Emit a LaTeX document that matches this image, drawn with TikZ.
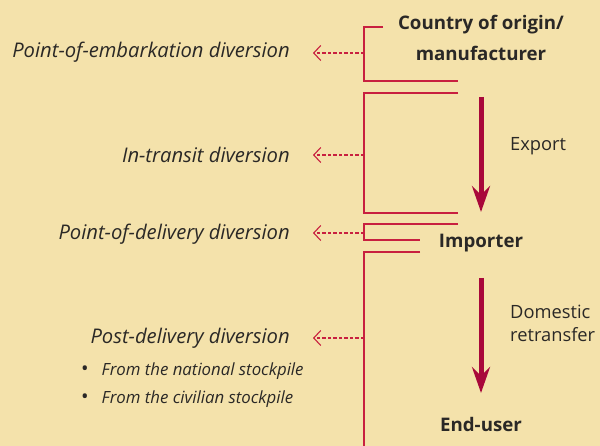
\documentclass[tikz,border=0pt]{standalone}
\usepackage{fontspec}
\setmainfont{Open Sans}
\usepackage{xcolor}
\usetikzlibrary{positioning,arrows.meta}

\definecolor{paper}{HTML}{F4E2AB}
\definecolor{crimson}{HTML}{C8203F}
\definecolor{wine}{HTML}{A8083A}
\definecolor{ink}{HTML}{2A2826}

\begin{document}
\begin{tikzpicture}[
    x=1pt, y=-1pt,
    stage/.style={font=\fontsize{18.7}{31}\selectfont\bfseries, text=ink, align=center, inner sep=0pt},
    note/.style={font=\fontsize{18.3}{23}\selectfont, text=ink, align=left, anchor=west, inner sep=0pt},
    kind/.style={font=\fontsize{20.2}{24}\selectfont\itshape, text=ink, anchor=east, inner sep=0pt},
    item/.style={font=\fontsize{16.8}{20}\selectfont\itshape, text=ink, anchor=west, inner sep=0pt},
    bracket/.style={draw=crimson, line width=1.3pt},
    leak/.style={draw=crimson, line width=1.1pt, dash pattern=on 3.5pt off 2pt,
                 -{Straight Barb[length=7pt, width=15pt, line width=1.1pt]}},
    flow/.style={draw=wine, line width=5pt,
                 -{Stealth[length=26pt, width=18pt, inset=9pt]}},
  ]

  % Background
  \fill[paper] (0,0) rectangle (600,446);
  \useasboundingbox (0,0) rectangle (600,446);

  % Stages
  \node[stage] (origin) at (481,38) {Country of origin/\\manufacturer};
  \node[stage] (importer) at (481,243) {Importer};
  \node[stage] (enduser) at (481,424) {End-user};

  % Transfers
  \node[note] (export) at (510,146) {Export};
  \node[note] (retransfer) at (510,323) {Domestic\\retransfer};
  \coordinate (e1s) at (481,97);
  \coordinate (e1e) at (481,212);
  \coordinate (e2s) at (481,278);
  \coordinate (e2e) at (481,393);
  \draw[flow] (e1s) -- (e1e);
  \draw[flow] (e2s) -- (e2e);

  % Brackets
  \draw[bracket] (383,27) -- (364,27) -- (364,81) -- (458,81);
  \draw[bracket] (458,93) -- (364,93) -- (364,213) -- (458,213);
  \draw[bracket] (458,224) -- (364,224) -- (364,240) -- (420,240);
  \draw[bracket] (420,252) -- (364,252) -- (364,450);

  % Diversion types
  \node[kind] (embark) at (290,52) {Point-of-embarkation diversion};
  \node[kind] (transit) at (290,155) {In-transit diversion};
  \node[kind] (delivery) at (290,234) {Point-of-delivery diversion};
  \node[kind] (post) at (290,338) {Post-delivery diversion};
  \node[item] (national) at (81,371) {{\upshape\fontsize{20}{20}\selectfont\textbullet}\hspace{13pt}From the national stockpile};
  \node[item] (civilian) at (81,399) {{\upshape\fontsize{20}{20}\selectfont\textbullet}\hspace{13pt}From the civilian stockpile};

  % Leaks
  \coordinate (b1) at (364,53);
  \coordinate (b2) at (364,155);
  \coordinate (b3) at (364,233);
  \coordinate (b4) at (364,338);
  \draw[leak] (b1) -- (b1 -| 313,0);
  \draw[leak] (b2) -- (b2 -| 313,0);
  \draw[leak] (b3) -- (b3 -| 313,0);
  \draw[leak] (b4) -- (b4 -| 313,0);

\end{tikzpicture}
\end{document}
